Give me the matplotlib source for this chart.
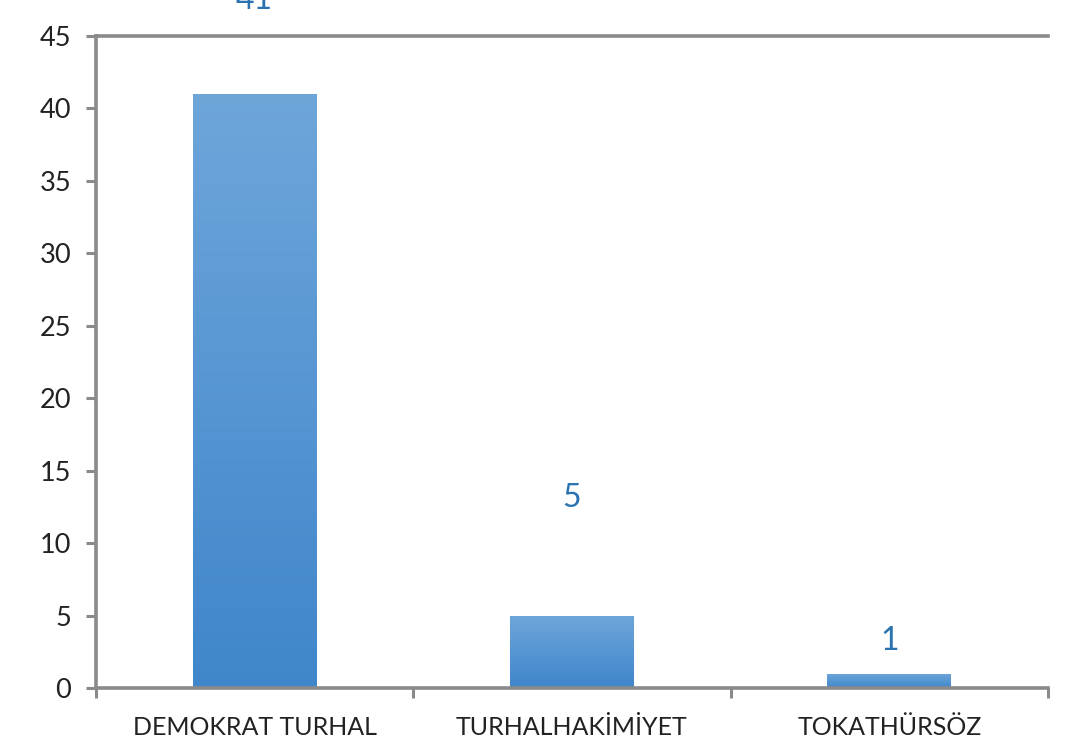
import matplotlib
matplotlib.use("Agg")
import matplotlib.pyplot as plt
import numpy as np
from matplotlib.colors import LinearSegmentedColormap

categories = ["DEMOKRAT TURHAL", "TURHALHAKİMİYET", "TOKATHÜRSÖZ"]
values = [41, 5, 1]
y_ticks = [0, 5, 10, 15, 20, 25, 30, 35, 40, 45]

# label offsets above bar tops (pixels), as in the reference
label_offsets_px = [94, 118, 33]

W, H, DPI = 1068, 749, 100
fig = plt.figure(figsize=(W / DPI, H / DPI), dpi=DPI)
ax = fig.add_axes([96 / W, 1 - 688 / H, (1048 - 96) / W, (688 - 36) / H])

font = "Lato"
grey = "#8a8a8a"
label_color = "#2a72b0"

x = np.arange(len(categories))
bar_w = 0.39
bars = ax.bar(x, values, width=bar_w, color="none", edgecolor="none", zorder=2)

cmap = LinearSegmentedColormap.from_list("g", ["#3f86cb", "#6ea6da"])
grad = np.linspace(0, 1, 256).reshape(-1, 1)
for b in bars:
    x0, y0 = b.get_x(), b.get_y()
    w, h = b.get_width(), b.get_height()
    im = ax.imshow(grad, extent=[x0, x0 + w, y0, y0 + h], origin="lower",
                   cmap=cmap, aspect="auto", zorder=2)
    im.set_clip_path(b)

ax.set_xlim(-0.5, len(categories) - 0.5)
ax.set_ylim(0, 45)
ax.set_yticks(y_ticks)
ax.set_yticklabels([str(t) for t in y_ticks], fontsize=19.5, family=font, color="#222222")
ax.set_xticks(x)
ax.set_xticklabels(categories, fontsize=18, family=font, color="#222222")
ax.tick_params(axis="x", length=0, pad=20)
ax.set_xticks(np.arange(-0.5, len(categories)), minor=True)
ax.tick_params(axis="x", which="minor", length=7, width=2.2, color=grey, direction="out")
ax.tick_params(axis="y", length=7, width=2.2, color=grey, pad=11, direction="out")

for s in ["left", "bottom", "top"]:
    ax.spines[s].set_color(grey)
    ax.spines[s].set_linewidth(2.6)
ax.spines["right"].set_visible(False)

for xi, v, off in zip(x, values, label_offsets_px):
    ax.annotate(str(v), xy=(xi, v), xytext=(0, off * 72 / DPI), textcoords="offset points",
                ha="center", va="center", fontsize=23, family=font, color=label_color,
                annotation_clip=False)

ax.set_axisbelow(False)
fig.savefig("out.png", dpi=DPI)
